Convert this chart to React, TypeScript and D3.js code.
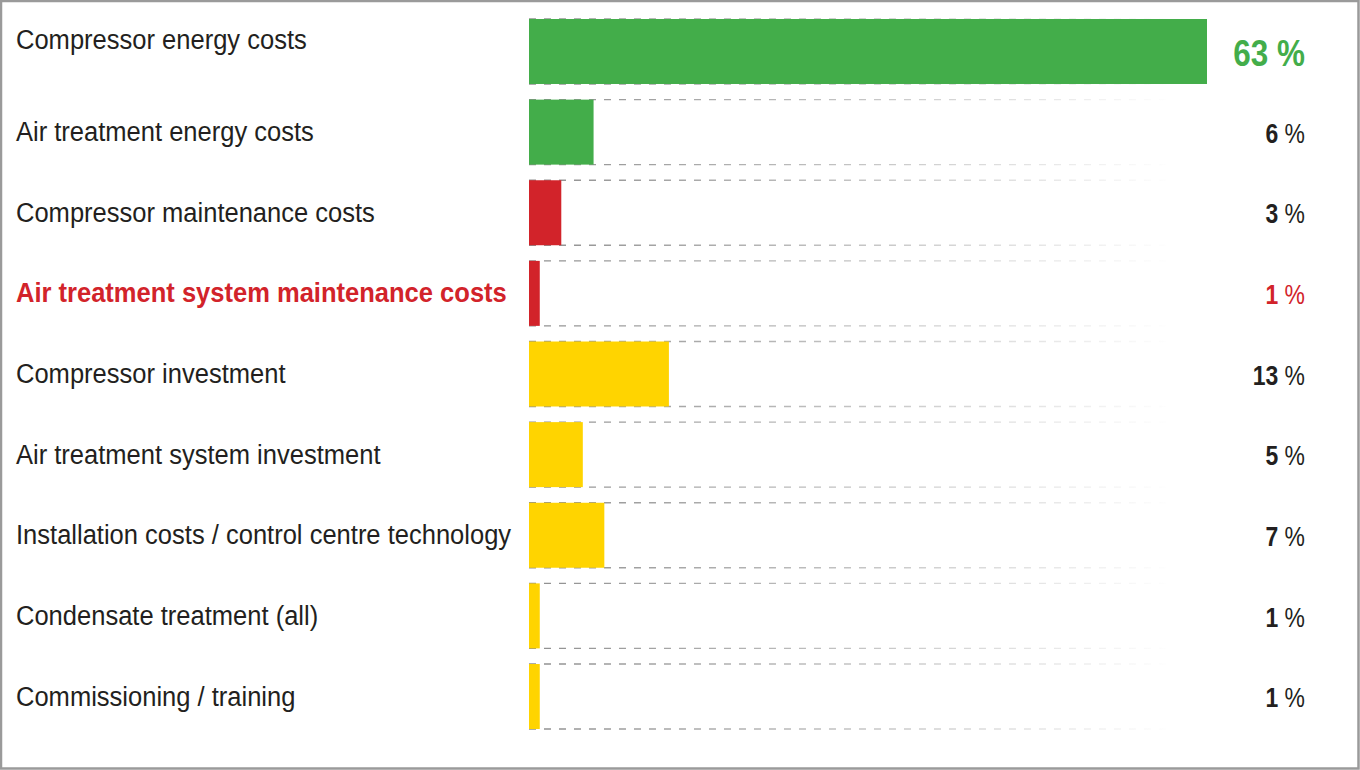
import React from "react";
import * as d3 from "d3";

const categories = [
  "Compressor energy costs",
  "Air treatment energy costs",
  "Compressor maintenance costs",
  "Air treatment system maintenance costs",
  "Compressor investment",
  "Air treatment system investment",
  "Installation costs / control centre technology",
  "Condensate treatment (all)",
  "Commissioning / training",
];
const values = [63, 6, 3, 1, 13, 5, 7, 1, 1];
const groups = ["energy", "energy", "maintenance", "maintenance", "investment", "investment", "investment", "investment", "investment"];
const highlighted = [false, false, false, true, false, false, false, false, false];

const W = 1360;
const H = 770;
const FONT = "'Liberation Sans Narrow', 'Arial Narrow', 'Liberation Sans', Arial, sans-serif";

const colorScale = d3
  .scaleOrdinal<string, string>()
  .domain(["energy", "maintenance", "investment"])
  .range(["#43ad4a", "#d2232a", "#ffd400"]);

export default function App() {
  const y = d3.scaleBand<string>().domain(categories).range([19, 729]).paddingInner(0.194).paddingOuter(0);
  const x = d3.scaleLinear().domain([0, 63]).range([529, 1207]);
  const bw = y.bandwidth();
  const lineEnd = 1172;

  return (
    <svg
      width={W}
      height={H}
      style={{ position: "absolute", left: 0, top: 0, background: "#fff" }}
      fontFamily={FONT}
    >
      <defs>
        <linearGradient id="fade" gradientUnits="userSpaceOnUse" x1={x(0)} x2={lineEnd} y1={0} y2={0}>
          <stop offset="0" stopColor="#8f8f8f" />
          <stop offset="0.55" stopColor="#c8c8c8" />
          <stop offset="1" stopColor="#ffffff" />
        </linearGradient>
      </defs>
      <rect x={1} y={1} width={W - 2.5} height={H - 2.5} fill="#fff" stroke="#9a9a9a" strokeWidth={2.5} />
      {categories.map((c, i) => {
        const top = y(c)!;
        const cy = top + bw / 2;
        const color = colorScale(groups[i]);
        const labelDy = i === 0 ? -13 : -1;
        return (
          <g key={c}>
            {[top, top + bw].map((ly, k) => (
              <line
                key={k}
                x1={x(0)}
                x2={lineEnd}
                y1={ly}
                y2={ly}
                stroke="url(#fade)"
                strokeWidth={1.3}
                strokeDasharray="7 8"
              />
            ))}
            <rect x={x(0)} y={top} width={x(values[i]) - x(0)} height={bw} fill={color} />
            <text
              transform={`translate(16,${cy + labelDy}) scale(0.912,1)`}
              dy="0.36em"
              fontSize={28}
              fontWeight={highlighted[i] ? "bold" : "normal"}
              fill={highlighted[i] ? "#d2232a" : "#231f20"}
            >
              {c}
            </text>
            <text
              transform={`translate(1305,${cy + (i === 0 ? 1 : 1)}) scale(0.85,1)`}
              dy="0.36em"
              textAnchor="end"
              fontSize={i === 0 ? 37 : 27}
              fill={i === 0 ? "#43ad4a" : highlighted[i] ? "#d2232a" : "#231f20"}
            >
              <tspan fontWeight="bold">{values[i]}</tspan>
              <tspan fontWeight={i === 0 ? "bold" : "normal"}>{"\u00a0%"}</tspan>
            </text>
          </g>
        );
      })}
    </svg>
  );
}
